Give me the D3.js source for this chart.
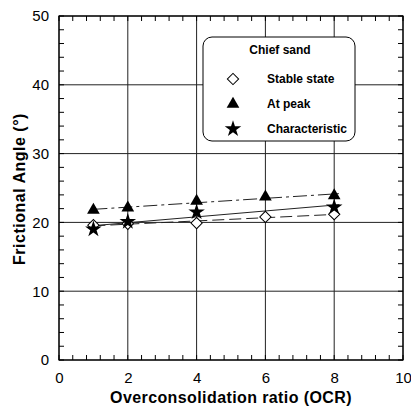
<!DOCTYPE html>
<html><head><meta charset="utf-8">
<script src="https://cdn.jsdelivr.net/npm/d3@7"></script>
<style>body{margin:0;background:#fff}svg{display:block}</style>
</head><body>
<svg id="c" width="411" height="407"></svg>
<script>
const ocrStable = [1, 2, 4, 6, 8];
const stableState = [19.6, 19.8, 19.9, 20.8, 21.2];
const ocrPeak = [1, 2, 4, 6, 8];
const atPeak = [21.8, 22.1, 23.1, 23.7, 23.9];
const ocrChar = [1, 2, 4, 8];
const characteristic = [19.0, 20.1, 21.5, 22.2];
const xTicks = [0, 2, 4, 6, 8, 10];
const yTicks = [0, 10, 20, 30, 40, 50];
const legendTitle = "Chief sand";
const seriesNames = ["Stable state", "At peak", "Characteristic"];

const svg = d3.select("#c");
const L = 59, R = 403, T = 16, B = 360;
const x = d3.scaleLinear().domain([0, 10]).range([L, R]);
const y = d3.scaleLinear().domain([0, 50]).range([B, T]);
const font = "'Liberation Sans', Arial, sans-serif";

// grid
const g = svg.append("g");
xTicks.forEach(t => g.append("line").attr("x1", x(t)).attr("x2", x(t)).attr("y1", T).attr("y2", B).attr("stroke", "#222").attr("stroke-width", 1));
yTicks.forEach(t => g.append("line").attr("y1", y(t)).attr("y2", y(t)).attr("x1", L).attr("x2", R).attr("stroke", "#222").attr("stroke-width", 1));

// minor ticks
const xMinor = d3.range(0, 10.001, 0.4);
const yMinor = d3.range(0, 50.001, 2);
xMinor.forEach(t => {
  g.append("line").attr("x1", x(t)).attr("x2", x(t)).attr("y1", B).attr("y2", B - 5).attr("stroke", "#000");
  g.append("line").attr("x1", x(t)).attr("x2", x(t)).attr("y1", T).attr("y2", T + 5).attr("stroke", "#000");
});
yMinor.forEach(t => {
  g.append("line").attr("y1", y(t)).attr("y2", y(t)).attr("x1", L).attr("x2", L + 5).attr("stroke", "#000");
  g.append("line").attr("y1", y(t)).attr("y2", y(t)).attr("x1", R).attr("x2", R - 5).attr("stroke", "#000");
});
svg.append("rect").attr("x", L).attr("y", T).attr("width", R - L).attr("height", B - T).attr("fill", "none").attr("stroke", "#000").attr("stroke-width", 1.2);

// axes labels
const xAxis = d3.axisBottom(x).tickValues(xTicks).tickSize(0).tickPadding(12);
const ax = svg.append("g").attr("transform", `translate(0,${B})`).call(xAxis);
ax.select(".domain").remove();
ax.selectAll("text").attr("font-family", font).attr("font-size", 15).attr("fill", "#000");
const yAxis = d3.axisLeft(y).tickValues(yTicks).tickSize(0).tickPadding(10);
const ay = svg.append("g").attr("transform", `translate(${L},0)`).call(yAxis);
ay.select(".domain").remove();
ay.selectAll("text").attr("font-family", font).attr("font-size", 15).attr("fill", "#000");

svg.append("text").attr("x", 231).attr("y", 403).attr("text-anchor", "middle")
  .attr("font-family", font).attr("font-size", 16).attr("font-weight", "bold").attr("letter-spacing", 0.4).text("Overconsolidation ratio (OCR)");
svg.append("text").attr("transform", `translate(25,189) rotate(-90)`).attr("text-anchor", "middle")
  .attr("font-family", font).attr("font-size", 16).attr("font-weight", "bold").attr("letter-spacing", 0.5).text("Frictional Angle (°)");

// fits
function fit(xs, ys) {
  const mx = d3.mean(xs), my = d3.mean(ys);
  let sxy = 0, sxx = 0;
  xs.forEach((v, i) => { sxy += (v - mx) * (ys[i] - my); sxx += (v - mx) * (v - mx); });
  const b = sxy / sxx, a = my - b * mx;
  return [[1, a + b], [8.15, a + b * 8.15]];
}
const line = d3.line().x(d => x(d[0])).y(d => y(d[1]));
svg.append("path").attr("d", line(fit(ocrStable, stableState))).attr("fill", "none").attr("stroke", "#222").attr("stroke-width", 1).attr("stroke-dasharray", "12,5");
svg.append("path").attr("d", line(fit(ocrPeak, atPeak))).attr("fill", "none").attr("stroke", "#222").attr("stroke-width", 1).attr("stroke-dasharray", "14,4,3,4");
svg.append("path").attr("d", line(fit(ocrChar, characteristic))).attr("fill", "none").attr("stroke", "#222").attr("stroke-width", 1);

// markers
const diamond = d3.symbol().type(d3.symbolSquare).size(64)();
const tri = d3.symbol().type(d3.symbolTriangle).size(70)();
const star = d3.symbol().type(d3.symbolStar).size(85)();
ocrStable.forEach((v, i) => svg.append("path").attr("d", diamond).attr("transform", `translate(${x(v)},${y(stableState[i])}) rotate(45)`).attr("fill", "#fff").attr("stroke", "#000").attr("stroke-width", 1));
ocrPeak.forEach((v, i) => svg.append("path").attr("d", tri).attr("transform", `translate(${x(v)},${y(atPeak[i])})`).attr("fill", "#000"));
ocrChar.forEach((v, i) => svg.append("path").attr("d", star).attr("transform", `translate(${x(v)},${y(characteristic[i])})`).attr("fill", "#000"));

// legend
const lg = svg.append("g");
lg.append("rect").attr("x", 203).attr("y", 37).attr("width", 152).attr("height", 104).attr("rx", 9).attr("fill", "#fff").attr("stroke", "#000").attr("stroke-width", 1);
lg.append("text").attr("x", 280).attr("y", 54).attr("text-anchor", "middle").attr("font-family", font).attr("font-size", 12).attr("font-weight", "bold").text(legendTitle);
const ly = [79, 104, 129];
lg.append("path").attr("d", diamond).attr("transform", `translate(233,${ly[0]}) rotate(45)`).attr("fill", "#fff").attr("stroke", "#000");
lg.append("path").attr("d", tri).attr("transform", `translate(233,${ly[1]})`).attr("fill", "#000");
lg.append("path").attr("d", star).attr("transform", `translate(233,${ly[2]})`).attr("fill", "#000");
seriesNames.forEach((s, i) => lg.append("text").attr("x", 267).attr("y", ly[i] + 4).attr("font-family", font).attr("font-size", 12).attr("font-weight", "bold").text(s));
</script>
</body></html>
